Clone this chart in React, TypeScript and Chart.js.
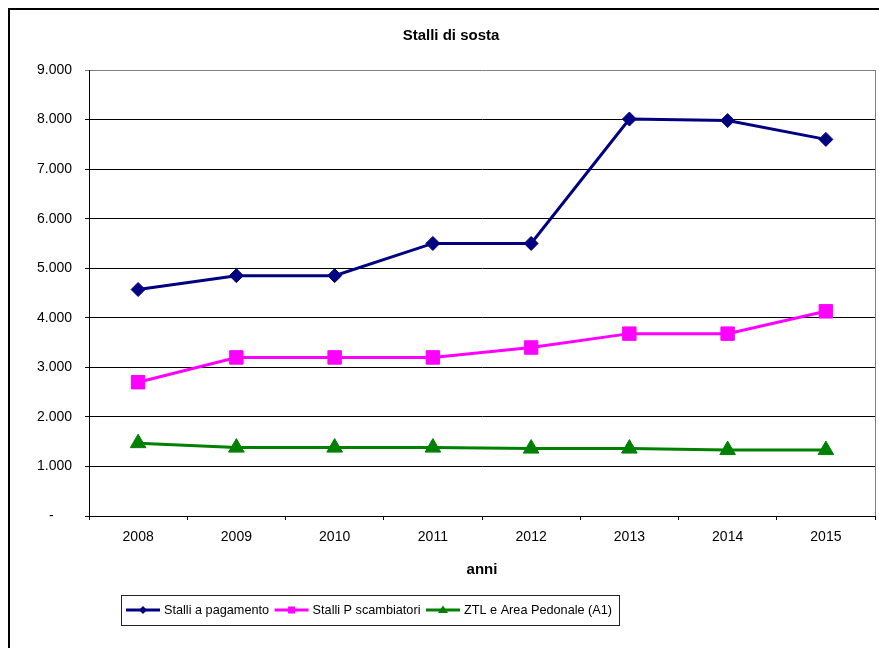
import { useEffect, useRef } from 'react';
import { Chart, registerables } from 'chart.js';

Chart.register(...registerables);

const years = ['2008', '2009', '2010', '2011', '2012', '2013', '2014', '2015'];
const stalliPagamento = [4570, 4850, 4850, 5500, 5500, 8010, 7980, 7600];
const stalliScambiatori = [2700, 3200, 3200, 3200, 3400, 3680, 3680, 4130];
const ztlPedonale = [1470, 1380, 1380, 1380, 1360, 1360, 1330, 1330];
const seriesLabels = ['Stalli a pagamento', 'Stalli P scambiatori', 'ZTL e Area Pedonale (A1)'];
const seriesColors = ['#000080', '#FF00FF', '#008000'];
const seriesMarkers = ['rectRot', 'rect', 'triangle'];
const chartTitle = 'Stalli di sosta';
const xTitle = 'anni';
const yMin = 0;
const yMax = 9000;
const yStep = 1000;

const FONT = '"Liberation Sans", Arial, sans-serif';
const W = 869;
const H = 640;

function fmt(v: number): string {
  if (v === 0) return '-    \u2009';
  return String(v).replace(/\B(?=(\d{3})+(?!\d))/g, '.');
}

function drawMarker(ctx: CanvasRenderingContext2D, style: string, x: number, y: number) {
  ctx.beginPath();
  if (style === 'rectRot') {
    ctx.moveTo(x - 4, y);
    ctx.lineTo(x, y - 4);
    ctx.lineTo(x + 4, y);
    ctx.lineTo(x, y + 4);
  } else if (style === 'rect') {
    ctx.rect(x - 3.5, y - 3.5, 7, 7);
  } else {
    ctx.moveTo(x, y - 4.5);
    ctx.lineTo(x + 5, y + 3);
    ctx.lineTo(x - 5, y + 3);
  }
  ctx.closePath();
  ctx.fill();
}

const boxLegend = {
  id: 'boxLegend',
  afterDraw(chart: any) {
    const ctx: CanvasRenderingContext2D = chart.ctx;
    const ca = chart.chartArea;
    const left = ca.left + 32;
    const top = ca.bottom + 79;
    const h = 30;
    const cy = top + h / 2;
    ctx.save();
    ctx.font = '12.7px ' + FONT;
    ctx.textBaseline = 'middle';
    ctx.textAlign = 'left';
    let x = left + 5;
    const items: { x: number; ds: any }[] = [];
    chart.data.datasets.forEach((ds: any) => {
      items.push({ x, ds });
      x += 34 + 4 + ctx.measureText(ds.label).width + 5.5;
    });
    const right = x - 5.5 + 7;
    ctx.strokeStyle = '#222';
    ctx.lineWidth = 1;
    ctx.strokeRect(Math.round(left) + 0.5, Math.round(top) + 0.5, Math.round(right - left), h);
    items.forEach(({ x: ix, ds }) => {
      ctx.strokeStyle = ds.borderColor;
      ctx.fillStyle = ds.borderColor;
      ctx.lineWidth = 3;
      ctx.beginPath();
      ctx.moveTo(ix, cy);
      ctx.lineTo(ix + 34, cy);
      ctx.stroke();
      drawMarker(ctx, ds.pointStyle, ix + 17, cy);
      ctx.fillStyle = '#000';
      ctx.fillText(ds.label, ix + 38, cy + 0.5);
    });
    ctx.restore();
  },
};

const plotBorder = {
  id: 'plotBorder',
  beforeDatasetsDraw(chart: any) {
    const ctx: CanvasRenderingContext2D = chart.ctx;
    const ca = chart.chartArea;
    ctx.save();
    ctx.strokeStyle = '#808080';
    ctx.lineWidth = 1;
    ctx.beginPath();
    ctx.moveTo(Math.round(ca.right) + 0.5, ca.top);
    ctx.lineTo(Math.round(ca.right) + 0.5, ca.bottom);
    ctx.stroke();
    ctx.restore();
  },
};

export default function App() {
  const ref = useRef<HTMLCanvasElement>(null);
  useEffect(() => {
    if (!ref.current) return;
    const series = [stalliPagamento, stalliScambiatori, ztlPedonale];
    const radii = [7, 9.5, 9];
    const chart = new Chart(ref.current, {
      type: 'line',
      data: {
        labels: years,
        datasets: series.map((d, i) => ({
          label: seriesLabels[i],
          data: d,
          borderColor: seriesColors[i],
          backgroundColor: seriesColors[i],
          pointBackgroundColor: seriesColors[i],
          pointBorderColor: seriesColors[i],
          pointStyle: seriesMarkers[i] as any,
          pointRadius: radii[i],
          pointBorderWidth: 1,
          borderWidth: 3,
          tension: 0,
          fill: false,
        })),
      },
      options: {
        animation: false,
        responsive: false,
        devicePixelRatio: 1,
        layout: { autoPadding: false, padding: { left: 17, right: 4, top: 0, bottom: 71 } },
        plugins: {
          legend: { display: false },
          tooltip: { enabled: false },
          title: {
            display: true,
            text: chartTitle,
            color: '#000',
            font: { family: FONT, size: 15, weight: 'bold', lineHeight: 1.2 },
            padding: { top: 17, bottom: 25 },
          },
        },
        scales: {
          x: {
            offset: true,
            grid: {
              display: true,
              offset: true,
              drawOnChartArea: false,
              drawTicks: true,
              tickLength: 4,
              color: '#000',
            },
            border: { display: true, color: '#000', width: 1 },
            ticks: {
              color: '#000',
              font: { family: FONT, size: 14 },
              padding: 9,
              maxRotation: 0,
            },
            title: {
              display: true,
              text: xTitle,
              color: '#000',
              font: { family: FONT, size: 15, weight: 'bold', lineHeight: 1.2 },
              padding: 0,
            },
            afterFit(scale: any) {
              scale.height = 63;
              scale.paddingLeft = 0;
              scale.paddingRight = 0;
            },
          },
          y: {
            min: yMin,
            max: yMax,
            grid: {
              drawTicks: true,
              tickLength: 4,
              color: (c: any) => (c.tick && c.tick.value === yMax ? '#808080' : '#000'),
            },
            border: { display: true, color: '#000', width: 1 },
            ticks: {
              stepSize: yStep,
              color: '#000',
              font: { family: FONT, size: 14 },
              padding: 13,
              callback: (v: any) => fmt(Number(v)),
            },
            afterFit(scale: any) {
              scale.width = 62;
            },
          },
        },
      },
      plugins: [plotBorder, boxLegend],
    });
    return () => chart.destroy();
  }, []);
  return (
    <div
      style={{
        position: 'fixed',
        left: 8,
        top: 8,
        width: W,
        height: H,
        borderLeft: '2px solid #000',
        borderTop: '2px solid #000',
        background: '#fff',
        overflow: 'hidden',
      }}
    >
      <canvas ref={ref} width={W} height={H} style={{ display: 'block', width: W, height: H }} />
    </div>
  );
}
